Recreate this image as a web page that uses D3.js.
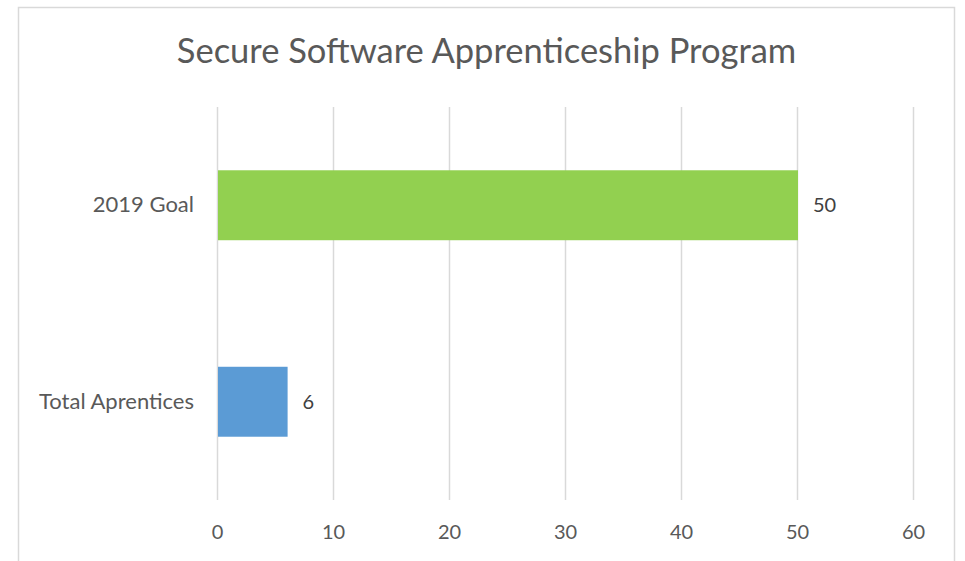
<!DOCTYPE html>
<html>
<head>
<meta charset="utf-8">
<script src="https://cdn.jsdelivr.net/npm/d3@7"></script>
<style>
html,body{margin:0;padding:0;background:#fff;}
svg{display:block;font-family:Lato,"Open Sans",sans-serif;}
</style>
</head>
<body>
<svg id="chart" width="965" height="561"></svg>
<script>
const title = "Secure Software Apprenticeship Program";
const categories = ["2019 Goal", "Total Aprentices"];
const values = [50, 6];
const barColors = ["#92D050", "#5B9BD5"];
const tickValues = [0, 10, 20, 30, 40, 50, 60];

const svg = d3.select("#chart");

// outer chart border
svg.append("rect").attr("x", 18.5).attr("y", 7.5).attr("width", 936).attr("height", 600)
  .attr("fill", "#fff").attr("stroke", "#d9d9d9").attr("stroke-width", 1.5);

const plot = {left: 217, right: 913, top: 107, bottom: 500};

const x = d3.scaleLinear().domain([0, 60]).range([plot.left, plot.right]);
const y = d3.scaleBand().domain(categories).range([plot.top, plot.bottom])
  .paddingInner(0.644).paddingOuter(0.322);

// gridlines
svg.append("g").selectAll("line").data(tickValues).join("line")
  .attr("x1", d => Math.round(x(d)) + 0.5).attr("x2", d => Math.round(x(d)) + 0.5)
  .attr("y1", plot.top).attr("y2", plot.bottom)
  .attr("stroke", "#d9d9d9").attr("stroke-width", 1.5);

// x axis labels
const xAxis = d3.axisBottom(x).tickValues(tickValues).tickSize(0).tickPadding(0);
const gx = svg.append("g").attr("transform", `translate(0,${plot.bottom + 25})`).call(xAxis);
gx.select(".domain").remove();
gx.selectAll("text").attr("fill", "#595959").style("font-size", "20px")
  .style("font-family", "Lato, 'Open Sans', sans-serif");

// y axis labels
const yAxis = d3.axisLeft(y).tickSize(0).tickPadding(23);
const gy = svg.append("g").attr("transform", `translate(${plot.left},0)`).call(yAxis);
gy.select(".domain").remove();
gy.selectAll("text").attr("fill", "#595959").style("font-size", "22px")
  .style("font-family", "Lato, 'Open Sans', sans-serif");

// bars
const data = categories.map((c, i) => ({c, v: values[i], col: barColors[i]}));
svg.append("g").selectAll("rect").data(data).join("rect")
  .attr("x", x(0) + 1).attr("y", d => y(d.c))
  .attr("width", d => x(d.v) - x(0)).attr("height", y.bandwidth())
  .attr("fill", d => d.col);

// value labels
svg.append("g").selectAll("text").data(data).join("text")
  .attr("x", d => x(d.v) + 16).attr("y", d => y(d.c) + y.bandwidth() / 2)
  .attr("dy", "0.35em").attr("fill", "#404040").style("font-size", "20px")
  .text(d => d.v);

// title
svg.append("text").attr("x", 486.5).attr("y", 63).attr("text-anchor", "middle")
  .attr("fill", "#595959").style("font-size", "34.5px").text(title);
</script>
</body>
</html>
